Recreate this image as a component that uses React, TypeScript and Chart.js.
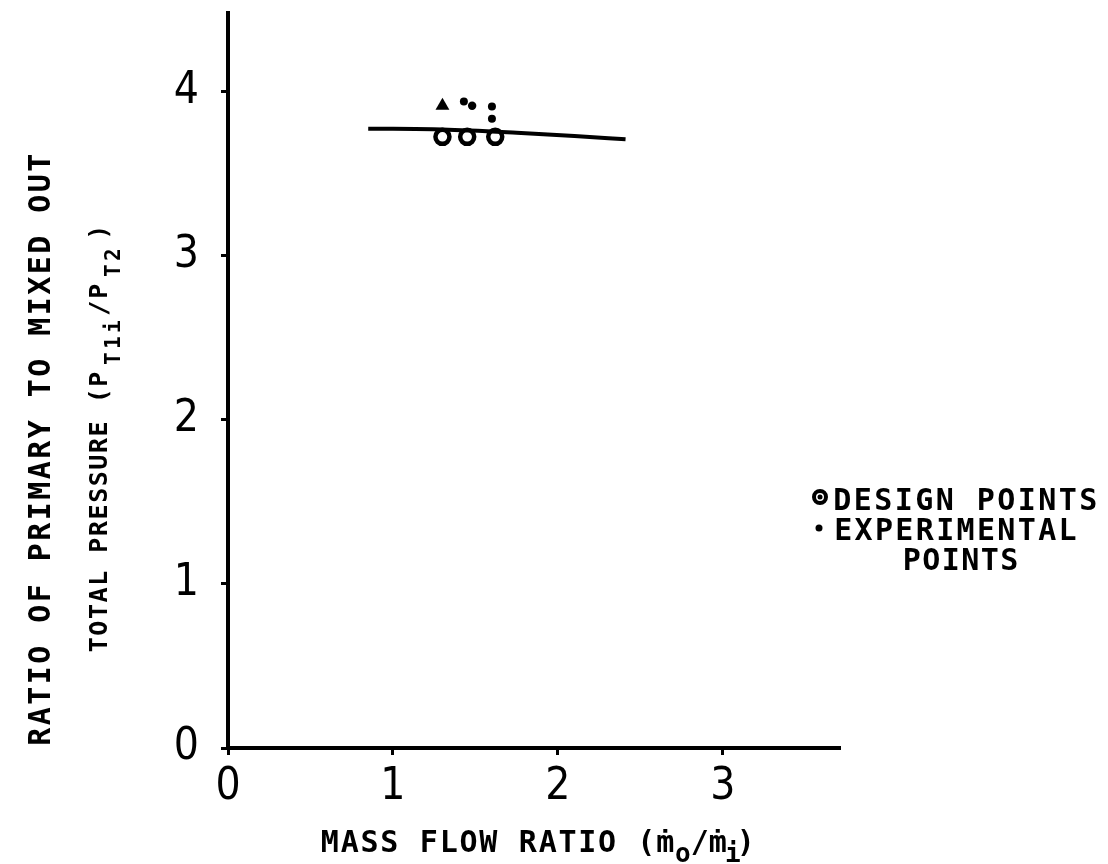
import { useEffect, useRef } from "react";
import { Chart, registerables } from "chart.js";

Chart.register(...registerables);

// Total-pressure ratio vs. mass flow ratio
const curveX = [0.85, 1.3, 1.75, 2.1, 2.41];
const curveY = [3.775, 3.77, 3.75, 3.73, 3.71];
const designX = [1.3, 1.45, 1.62];
const designY = [3.725, 3.725, 3.725];
const expX = [1.3, 1.43, 1.48, 1.6, 1.6];
const expY = [3.915, 3.94, 3.915, 3.91, 3.835];
const expStyles = ["triangle", "circle", "circle", "circle", "circle"];
const xTicks = [0, 1, 2, 3];
const yTicks = [0, 1, 2, 3, 4];
const X_MAX = 3.71;
const Y_MAX = 4.48;

const MONO = "'DejaVu Sans Mono', monospace";
const TICK_FONT = "'Liberation Sans Narrow', 'DejaVu Sans Condensed', sans-serif";

type Run = { t: string; size: number; pitch: number; dy?: number; gap?: number };

// Typewriter-style text: each character centred in a fixed-width cell
function drawRuns(ctx: CanvasRenderingContext2D, runs: Run[]) {
  let x = 0;
  ctx.textAlign = "center";
  ctx.textBaseline = "alphabetic";
  for (const r of runs) {
    x += r.gap || 0;
    ctx.font = `bold ${r.size}px ${MONO}`;
    for (const ch of r.t) {
      ctx.fillText(ch, x + r.pitch / 2, r.dy || 0);
      x += r.pitch;
    }
  }
}

const titlesPlugin = {
  id: "titles",
  afterDraw(chart: Chart) {
    const ctx = chart.ctx;
    ctx.save();
    ctx.fillStyle = "#000";

    // y title, first line
    ctx.save();
    ctx.translate(50, 747);
    ctx.rotate(-Math.PI / 2);
    drawRuns(ctx, [{ t: "RATIO OF PRIMARY TO MIXED OUT", size: 30, pitch: 20.5 }]);
    ctx.restore();

    // y title, second line with subscripts
    ctx.save();
    ctx.translate(107, 653);
    ctx.rotate(-Math.PI / 2);
    drawRuns(ctx, [
      { t: "TOTAL PRESSURE ", size: 25, pitch: 16.6 },
      { t: "(P", size: 25, pitch: 16.6 },
      { t: "T1i", size: 21, pitch: 16, dy: 13, gap: 4 },
      { t: "/P", size: 25, pitch: 17, gap: 2 },
      { t: "T2", size: 21, pitch: 16, dy: 13, gap: 4 },
      { t: ")", size: 25, pitch: 17, gap: 6 },
    ]);
    ctx.restore();

    // x title
    ctx.save();
    ctx.translate(320, 852);
    drawRuns(ctx, [
      { t: "MASS FLOW RATIO ", size: 30, pitch: 19.8 },
      { t: "(ṁ", size: 30, pitch: 19 },
      { t: "o", size: 26, pitch: 16, dy: 10 },
      { t: "/ṁ", size: 30, pitch: 18 },
      { t: "i", size: 26, pitch: 12, dy: 10 },
      { t: ")", size: 30, pitch: 14 },
    ]);
    ctx.restore();

    // key
    ctx.lineWidth = 4;
    ctx.strokeStyle = "#000";
    ctx.beginPath();
    ctx.arc(820, 497, 6, 0, Math.PI * 2);
    ctx.stroke();
    ctx.beginPath();
    ctx.arc(820, 497, 2.5, 0, Math.PI * 2);
    ctx.fill();
    ctx.beginPath();
    ctx.arc(819, 528, 3.5, 0, Math.PI * 2);
    ctx.fill();

    ctx.save();
    ctx.translate(832, 510);
    drawRuns(ctx, [{ t: "DESIGN POINTS", size: 30, pitch: 20.5 }]);
    ctx.restore();
    ctx.save();
    ctx.translate(833, 540);
    drawRuns(ctx, [{ t: "EXPERIMENTAL", size: 30, pitch: 20.4 }]);
    ctx.restore();
    ctx.save();
    ctx.translate(902, 570);
    drawRuns(ctx, [{ t: "POINTS", size: 30, pitch: 19.5 }]);
    ctx.restore();

    ctx.restore();
  },
};

function keepTicks(values: number[]) {
  return (scale: any) => {
    scale.ticks = values.map((v) => ({ value: v }));
  };
}

function noPad(s: any) {
  s.paddingTop = 0;
  s.paddingBottom = 0;
  s.paddingLeft = 0;
  s.paddingRight = 0;
}

export default function App() {
  const ref = useRef<HTMLCanvasElement | null>(null);

  useEffect(() => {
    if (!ref.current) return;
    const chart = new Chart(ref.current, {
      type: "scatter",
      data: {
        datasets: [
          {
            type: "line",
            label: "curve",
            data: curveX.map((x, i) => ({ x, y: curveY[i] })),
            borderColor: "#000",
            borderWidth: 4,
            pointRadius: 0,
            tension: 0.4,
            cubicInterpolationMode: "monotone",
            fill: false,
          },
          {
            label: "DESIGN POINTS",
            data: designX.map((x, i) => ({ x, y: designY[i] })),
            pointRadius: 7,
            borderWidth: 4.5,
            borderColor: "#000",
            backgroundColor: "#fff",
          },
          {
            label: "DESIGN POINTS centre",
            data: designX.map((x, i) => ({ x, y: designY[i] })),
            pointRadius: 2.5,
            borderWidth: 0,
            backgroundColor: "#000",
          },
          {
            label: "EXPERIMENTAL POINTS",
            data: expX.map((x, i) => ({ x, y: expY[i] })),
            pointStyle: expStyles as any,
            pointRadius: [8, 4, 4.2, 4, 4],
            borderWidth: 0,
            backgroundColor: "#000",
          },
        ],
      },
      options: {
        animation: false,
        responsive: true,
        maintainAspectRatio: false,
        layout: { padding: { top: 13, right: 268, left: 0, bottom: 0 } },
        plugins: {
          legend: { display: false },
          tooltip: { enabled: false },
        },
        scales: {
          x: {
            type: "linear",
            min: 0,
            max: X_MAX,
            afterBuildTicks: keepTicks(xTicks),
            afterFit: (s: any) => {
              s.height = 116;
              noPad(s);
            },
            grid: {
              drawOnChartArea: false,
              drawTicks: true,
              tickLength: 7,
              tickWidth: 3,
              tickColor: "#000",
            },
            border: { display: true, color: "#000", width: 4 },
            ticks: {
              color: "#000",
              padding: 6,
              maxRotation: 0,
              font: { family: TICK_FONT, size: 44 },
            },
          },
          y: {
            type: "linear",
            min: 0,
            max: Y_MAX,
            afterBuildTicks: keepTicks(yTicks),
            afterFit: (s: any) => {
              s.width = 228;
              noPad(s);
            },
            grid: {
              drawOnChartArea: false,
              drawTicks: true,
              tickLength: 7,
              tickWidth: 3,
              tickColor: "#000",
            },
            border: { display: true, color: "#000", width: 4 },
            ticks: {
              color: "#000",
              padding: 22,
              font: { family: TICK_FONT, size: 44 },
            },
          },
        },
      },
      plugins: [titlesPlugin],
    } as any);
    return () => chart.destroy();
  }, []);

  return (
    <div style={{ position: "absolute", left: 0, top: 0, width: 1108, height: 864, background: "#fff" }}>
      <canvas ref={ref} />
    </div>
  );
}
